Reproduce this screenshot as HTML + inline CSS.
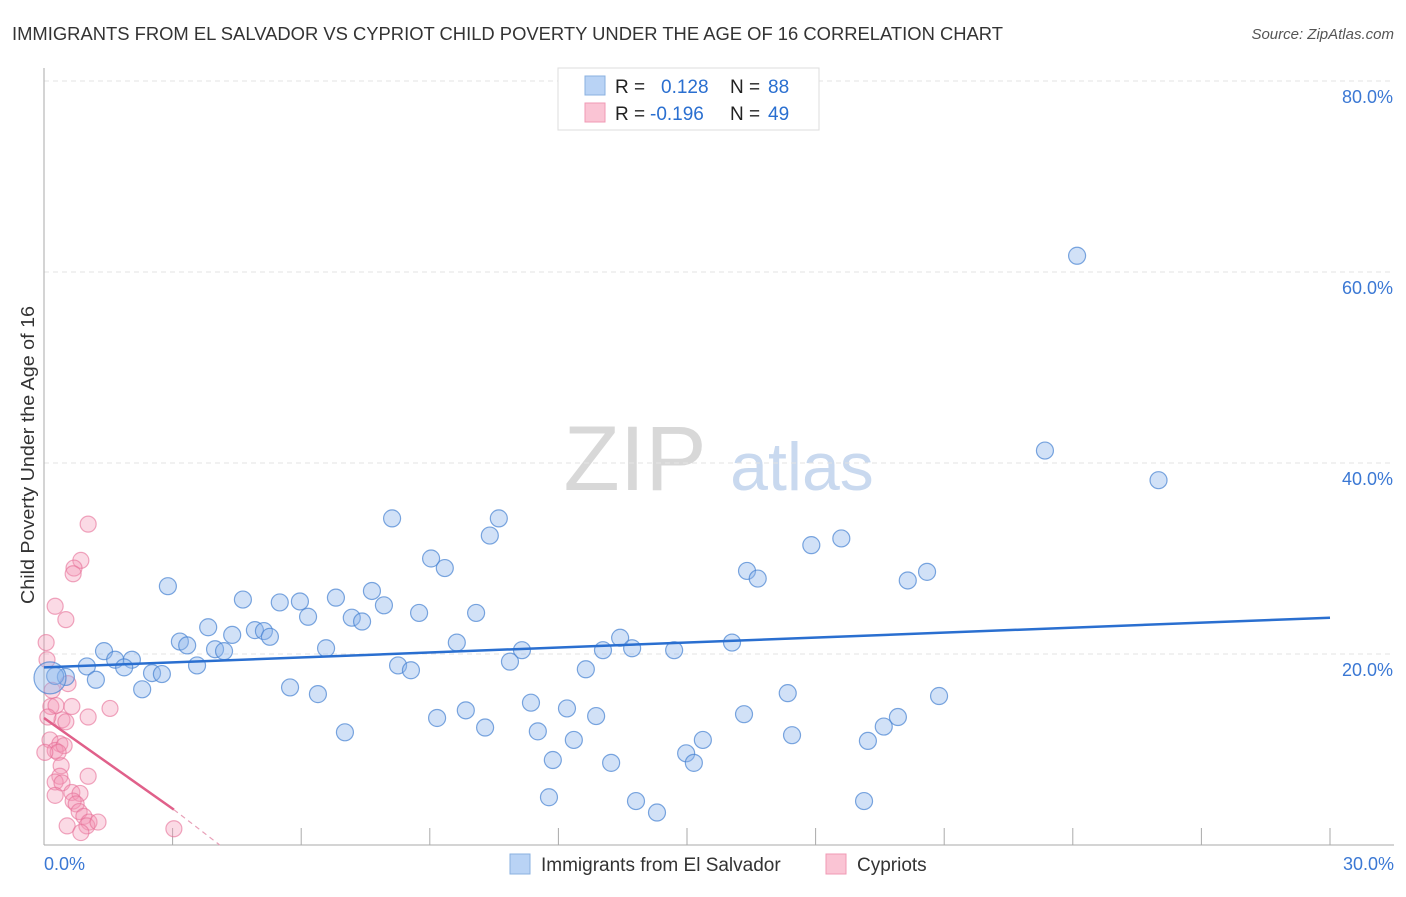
<!DOCTYPE html>
<html><head><meta charset="utf-8">
<style>
body{margin:0;background:#fff;font-family:"Liberation Sans",sans-serif;}
svg text{font-family:"Liberation Sans",sans-serif;}
</style></head>
<body>
<svg id="chart" width="1406" height="892" xmlns="http://www.w3.org/2000/svg">
<text x="12" y="40" font-size="18" fill="#333" textLength="991" lengthAdjust="spacingAndGlyphs">IMMIGRANTS FROM EL SALVADOR VS CYPRIOT CHILD POVERTY UNDER THE AGE OF 16 CORRELATION CHART</text>
<text x="1394" y="39" font-size="15" fill="#555" text-anchor="end" font-style="italic">Source: ZipAtlas.com</text>
<text transform="translate(34,455) rotate(-90)" font-size="18" fill="#333" text-anchor="middle" textLength="298" lengthAdjust="spacingAndGlyphs">Child Poverty Under the Age of 16</text>
<g>
<text x="635" y="490" font-size="92" fill="#d8d8d8" font-family="Liberation Serif" text-anchor="middle">ZIP</text>
<text x="802" y="490" font-size="68" fill="#c9d9ef" text-anchor="middle">atlas</text>
</g>
<g id="grid"></g>
<g id="axes"></g>
<g id="marks"></g>
<g>
<rect x="558" y="68" width="261" height="62" fill="#fff" stroke="#ddd"/>
<rect x="585" y="76" width="20" height="19" fill="#b9d3f5" stroke="#8ab0e0"/>
<rect x="585" y="103" width="20" height="19" fill="#fac4d4" stroke="#f09ab4"/>
<text x="615" y="93" font-size="19" fill="#222">R = </text>
<text x="661" y="93" font-size="19" fill="#2a6fd0">0.128</text>
<text x="730" y="93" font-size="19" fill="#222">N = </text>
<text x="768" y="93" font-size="19" fill="#2a6fd0">88</text>
<text x="615" y="120" font-size="19" fill="#222">R = </text>
<text x="650" y="120" font-size="19" fill="#2a6fd0">-0.196</text>
<text x="730" y="120" font-size="19" fill="#222">N = </text>
<text x="768" y="120" font-size="19" fill="#2a6fd0">49</text>
</g>
<g>
<rect x="510" y="854" width="20" height="20" fill="#b9d3f5" stroke="#8ab0e0"/>
<text x="541" y="871" font-size="19" fill="#333">Immigrants from El Salvador</text>
<rect x="826" y="854" width="20" height="20" fill="#fac4d4" stroke="#f09ab4"/>
<text x="857" y="871" font-size="19" fill="#333">Cypriots</text>
</g>
</svg>
<script>
const xTicks=[0,3,6,9,12,15,18,21,24,27,30];
const yTicks=[20,40,60,80];
const yTickLabels=["20.0%","40.0%","60.0%","80.0%"];
const xEndLabels=["0.0%","30.0%"];
const blueX=[24.1,23.35,26.0,8.12,10.61,10.4,9.03,9.35,17.9,18.6,16.4,16.65,20.15,20.6,2.89,4.64,5.5,5.97,6.81,7.65,7.93,7.18,7.42,6.16,8.75,10.08,3.83,4.92,5.13,5.27,4.39,3.17,3.34,3.99,4.2,6.58,9.63,11.15,13.44,13.04,13.72,14.7,16.05,1.4,1.66,2.05,1.87,1.0,2.52,2.75,3.57,8.26,8.56,10.87,12.64,0.51,1.21,0.26,2.29,5.74,6.39,17.35,20.88,11.36,9.84,12.2,12.88,9.17,16.33,19.92,19.59,7.02,10.29,11.52,17.45,12.36,15.37,19.22,14.98,11.87,13.23,15.16,11.78,13.81,19.13,14.3];
const blueY=[61.7,41.3,38.2,34.2,34.2,32.4,30.0,29.0,31.4,32.1,28.7,27.9,27.7,28.6,27.1,25.7,25.4,25.5,25.9,26.6,25.1,23.8,23.4,23.9,24.3,24.3,22.8,22.5,22.4,21.8,22.0,21.3,20.9,20.5,20.3,20.6,21.2,20.4,21.7,20.4,20.6,20.4,21.2,20.3,19.4,19.4,18.6,18.7,18.0,17.9,18.8,18.8,18.3,19.2,18.4,17.6,17.3,17.7,16.3,16.5,15.8,15.9,15.6,14.9,14.1,14.3,13.5,13.3,13.7,13.4,12.4,11.8,12.3,11.9,11.5,11.0,11.0,10.9,9.6,8.9,8.6,8.6,5.0,4.6,4.6,3.4];
const bigBlue=[0.14,17.5];
const pinkX=[1.03,0.86,0.7,0.68,0.26,0.51,0.05,0.07,0.56,0.16,0.65,0.28,0.42,1.03,1.54,0.51,0.14,0.37,0.26,0.47,0.33,0.4,0.37,1.03,0.26,0.42,0.65,0.84,0.26,0.68,0.75,0.82,0.93,1.05,1.0,1.26,0.54,0.86,3.03,0.02,0.19,0.09];
const pinkY=[33.6,29.8,29.0,28.4,25.0,23.6,21.2,19.4,16.9,14.5,14.5,14.6,13.1,13.4,14.3,12.9,11.0,10.6,9.9,10.4,9.7,8.3,7.2,7.2,6.6,6.5,5.5,5.4,5.2,4.6,4.3,3.5,3.0,2.4,2.0,2.4,2.0,1.3,1.7,9.7,16.2,13.4];
const blueTrend=[[0,18.6],[30,23.8]];
const pinkTrend=[[0,13.3],[3.03,3.7]];
const pinkDash=[[3.03,3.7],[4.1,0]];
const X0=44,X1=1330,Y0=845,Y80=81;
const sx=v=>X0+(X1-X0)*v/30;
const sy=v=>Y0-(Y0-Y80)*v/80;
const NS="http://www.w3.org/2000/svg";
function mk(parent,tag,attrs){const e=document.createElementNS(NS,tag);for(const k in attrs)e.setAttribute(k,attrs[k]);parent.appendChild(e);return e;}
const grid=document.getElementById('grid'),axes=document.getElementById('axes'),marks=document.getElementById('marks');
yTicks.forEach((t,i)=>{
 const g=mk(grid,'line',{x1:X0,x2:1394,y1:sy(t),y2:sy(t),stroke:'#e3e3e3','stroke-dasharray':'5,4'});
 
 
 const l=mk(axes,'text',{x:1393,y:sy(t)+22,'font-size':18,fill:'#3b78d4','text-anchor':'end'});
 l.textContent=yTickLabels[i];
 
 
});
const ax=mk(axes,'line',{x1:X0,x2:X0,y1:68,y2:Y0,stroke:'#aaa'});


const bx=mk(axes,'line',{x1:X0,x2:1394,y1:Y0,y2:Y0,stroke:'#aaa'});


xTicks.forEach(t=>{
 const k=mk(axes,'line',{x1:sx(t),x2:sx(t),y1:828,y2:Y0,stroke:'#aaa'});
 
 
});
[[0,'start',44],[30,'end',1394]].forEach((d,i)=>{
 const l=mk(axes,'text',{x:d[2],y:870,'font-size':18,fill:'#3b78d4','text-anchor':d[1]});
 l.textContent=xEndLabels[i];
 
 
});
pinkX.forEach((x,i)=>{
 const c=mk(marks,'circle',{cx:sx(x),cy:sy(pinkY[i]),r:8,fill:'rgba(244,150,180,0.35)',stroke:'rgba(230,110,150,0.6)','stroke-width':1.2});
 
 
});
blueX.forEach((x,i)=>{
 const c=mk(marks,'circle',{cx:sx(x),cy:sy(blueY[i]),r:8.5,fill:'rgba(140,180,235,0.4)',stroke:'rgba(70,130,210,0.7)','stroke-width':1.2});
 
 
});
const bb=mk(marks,'circle',{cx:sx(bigBlue[0]),cy:sy(bigBlue[1]),r:16,fill:'rgba(140,180,235,0.4)',stroke:'rgba(70,130,210,0.7)','stroke-width':1.2});


const bt=mk(marks,'line',{x1:sx(blueTrend[0][0]),y1:sy(blueTrend[0][1]),x2:sx(blueTrend[1][0]),y2:sy(blueTrend[1][1]),stroke:'#2a6fd0','stroke-width':2.5});


const pt=mk(marks,'line',{x1:sx(pinkTrend[0][0]),y1:sy(pinkTrend[0][1]),x2:sx(pinkTrend[1][0]),y2:sy(pinkTrend[1][1]),stroke:'#e0608a','stroke-width':2.5});


const pd=mk(marks,'line',{x1:sx(pinkDash[0][0]),y1:sy(pinkDash[0][1]),x2:sx(pinkDash[1][0]),y2:sy(pinkDash[1][1]),stroke:'#e8a0b8','stroke-width':1.2,'stroke-dasharray':'5,4'});


</script>
</body></html>
